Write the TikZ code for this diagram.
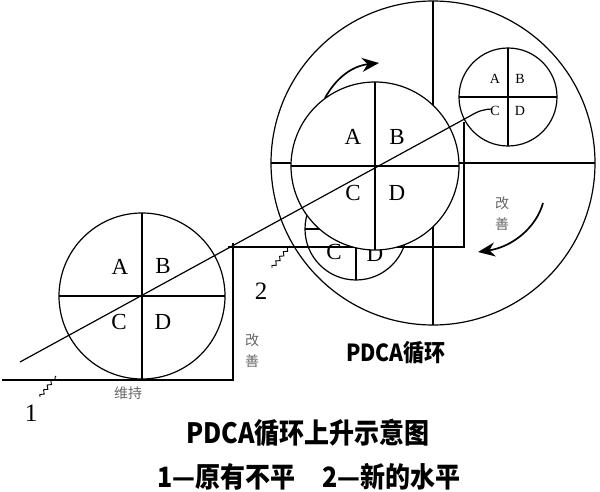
\documentclass[tikz,border=0pt]{standalone}
\usepackage{fontspec}
\setmainfont{Liberation Serif}
\newfontfamily\cjk{Noto Sans CJK SC}
\usetikzlibrary{arrows.meta,decorations.pathmorphing}
\newcommand{\tallbox}[1]{\scalebox{1}[1.12]{#1}}
\begin{document}
\begin{tikzpicture}[x=1pt,y=-1pt,line width=1.2pt,
  ring/.style={circle,draw,fill=white,inner sep=0pt,outer sep=0pt},
  letter/.style={font=\fontsize{23}{23}\selectfont,inner sep=0pt},
  smallletter/.style={font=\fontsize{14}{14}\selectfont,inner sep=0pt},
  note/.style={font=\cjk\fontsize{14}{21}\selectfont,text=black!60,inner sep=0pt,align=center},
  numlabel/.style={font=\fontsize{25}{25}\selectfont,inner sep=0pt},
  arcarrow/.style={line width=1.7pt,-{Stealth[length=17pt,width=14pt]}},
  wave/.style={decorate,decoration={snake,amplitude=1.6pt,segment length=6pt},line width=0.9pt},
  title/.style={font=\cjk\bfseries\fontsize{25}{25}\selectfont,inner sep=0pt}]
\useasboundingbox[fill=white] (0,0) rectangle (600,492);

% big circle
\node[ring,minimum size=324pt] (big) at (433,163) {};
\draw (big.north) -- (big.south);
\draw (big.west) -- (big.east);

% lower (partly hidden) circle
\node[ring,minimum size=102pt] (low) at (356,229) {};
\draw (low.north) -- (low.south);
\draw (low.west) -- (low.east);
\node[letter] (lowC) at (334,252) {C};
\node[letter] (lowD) at (375,254) {D};

% step lines
\coordinate (s1) at (228,247);
\coordinate (s2) at (464,247);
\coordinate (s3) at (464,122);
\draw (s1) -- (s2) -- (s3);

% middle circle
\node[ring,minimum size=168pt] (mid) at (375,166) {};
\draw (mid.north) -- (mid.south);
\draw (mid.west) -- (mid.east);
\node[letter] (midA) at (353,137) {A};
\node[letter] (midB) at (397,137) {B};
\node[letter] (midC) at (353,193) {C};
\node[letter] (midD) at (397,193) {D};

% small circle
\node[ring,minimum size=98pt] (sml) at (508,97) {};
\draw (sml.north) -- (sml.south);
\draw (sml.west) -- (sml.east);
\node[smallletter] (smlA) at (495,79) {A};
\node[smallletter] (smlB) at (520,79) {B};
\node[smallletter] (smlC) at (495,111) {C};
\node[smallletter] (smlD) at (520,111) {D};

% left circle
\node[ring,minimum size=166pt] (lft) at (142,296) {};
\draw (lft.north) -- (lft.south);
\draw (lft.west) -- (lft.east);
\node[letter] (lftA) at (120,267) {A};
\node[letter] (lftB) at (163,266) {B};
\node[letter] (lftC) at (119,322) {C};
\node[letter] (lftD) at (163,322) {D};

% base level and first rise
\coordinate (b0) at (2,380);
\coordinate (b1) at (233,380);
\coordinate (b2) at (233,243);
\draw (b0) -- (b1) -- (b2);

% diagonal
\coordinate (d0) at (20,362);
\coordinate (d1) at (470,116);
\coordinate (d2) at (492,109);
\draw (d0) -- (d1) .. controls (478,111) and (485,109) .. (d2);

% rotation arrows
\coordinate (a1s) at (325,98);
\coordinate (a1e) at (379,63);
\draw[arcarrow] (a1s) .. controls (336,78) and (352,66) .. (a1e);
\coordinate (a2s) at (543,203);
\coordinate (a2e) at (478,252);
\draw[arcarrow] (a2s) .. controls (536,228) and (512,247) .. (a2e);

% notes
\node[note] (imp1) at (252,351) {改\\善};
\node[note] (imp2) at (502,214) {改\\善};
\node[note] (keep) at (128,393) {维持};

% level labels
\coordinate (w1s) at (40,397);
\coordinate (w1e) at (56,376);
\draw[wave] (w1s) -- (w1e);
\node[numlabel] (n1) at (31,413) {1};
\coordinate (w2s) at (272,268);
\coordinate (w2e) at (290,246);
\draw[wave] (w2s) -- (w2e);
\node[numlabel] (n2) at (261,291) {2};

% titles
\node[font=\cjk\bfseries\fontsize{21}{21}\selectfont,inner sep=0pt] (pdca) at (396,353) {\tallbox{PDCA循环}};
\node[title] (cap1) at (308,433) {\tallbox{PDCA循环上升示意图}};
\node[title,anchor=west] (cap2) at (157,477) {\tallbox{1—原有不平}};
\node[title,anchor=west] (cap3) at (322,477) {\tallbox{2—新的水平}};
\end{tikzpicture}
\end{document}
